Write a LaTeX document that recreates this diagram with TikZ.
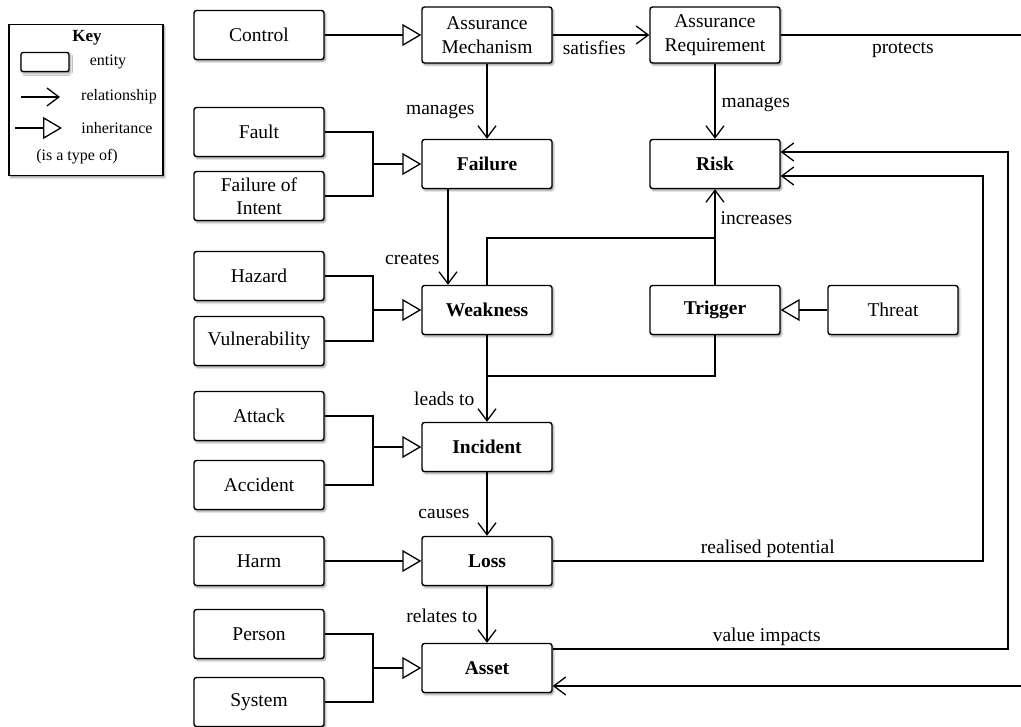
\documentclass[tikz,border=0pt]{standalone}
\usepackage{fontspec}
\setmainfont{Liberation Serif}
\usetikzlibrary{arrows.meta,shadows.blur,calc}

\begin{document}
\begin{tikzpicture}[x=1pt,y=-1pt,
  boxshadow/.style={blur shadow={shadow xshift=1.5pt,shadow yshift=-2pt,shadow blur radius=2pt,shadow opacity=45}},
  ent/.style={draw,line width=1.4pt,rounded corners=2.5pt,fill=white,
    minimum width=130pt,minimum height=49pt,align=center,inner sep=2pt,
    font=\fontsize{19.5}{23.5}\selectfont,boxshadow},
  core/.style={ent,font=\fontsize{19.5}{23.5}\selectfont\bfseries},
  tall/.style={minimum height=56pt},
  rel/.style={line width=1.3pt,-{Straight Barb[length=12pt,width=18pt,line width=1.3pt]}},
  inh/.style={line width=1.3pt,-{Triangle[length=19pt,width=22pt,line width=1.3pt,fill=white]}},
  lnk/.style={line width=1.3pt},
  lbl/.style={font=\fontsize{19.5}{23.5}\selectfont,inner sep=3pt},
  keytxt/.style={font=\fontsize{16}{18}\selectfont,inner sep=1pt},
]
\useasboundingbox (0,0) rectangle (1021,727);
\clip (0,0) rectangle (1021,727);

% ---- key ----
\node (keybox) [draw,line width=1.4pt,fill=white,minimum width=154pt,minimum height=151pt,boxshadow] at (86,100) {};
\node (keytitle) [keytxt,font=\fontsize{17}{19}\selectfont\bfseries] at (87,38) {Key};
\node (keyent) [draw,line width=1.3pt,rounded corners=2pt,fill=white,minimum width=48pt,minimum height=19pt,inner sep=0pt,boxshadow] at (45,62) {};
\node (keyentl) [keytxt] at (108,62) {entity};
\coordinate (kr1) at (21,97);
\coordinate (kr2) at (60,97);
\draw[rel] (kr1) -- (kr2);
\node (keyrel) [keytxt] at (119,97) {relationship};
\coordinate (ki1) at (15,128);
\coordinate (ki2) at (62,128);
\draw[inh] (ki1) -- (ki2);
\node (keyinh) [keytxt] at (117,128) {inheritance};
\node (keytype) [keytxt] at (77,157) {(is a type of)};

% ---- left column ----
\node (control) [ent] at (259,35) {Control};
\node (fault) [ent] at (259,132) {Fault};
\node (foi) [ent] at (259,196) {Failure of\\Intent};
\node (hazard) [ent] at (259,276) {Hazard};
\node (vuln) [ent] at (259,341) {Vulnerability};
\node (attack) [ent] at (259,416) {Attack};
\node (accident) [ent] at (259,485) {Accident};
\node (harm) [ent] at (259,561) {Harm};
\node (person) [ent] at (259,634) {Person};
\node (system) [ent] at (259,702) {System};

% ---- middle column ----
\node (am) [ent,tall] at (487,35) {Assurance\\Mechanism};
\node (failure) [core] at (487,164) {Failure};
\node (weak) [core] at (487,310) {Weakness};
\node (inc) [core] at (487,447) {Incident};
\node (loss) [core] at (487,561) {Loss};
\node (asset) [core] at (487,668) {Asset};

% ---- right column ----
\node (ar) [ent,tall] at (715,35) {Assurance\\Requirement};
\node (risk) [core] at (715,164) {Risk};
\node (trig) [core] at (715,310) {Trigger};
\node (threat) [ent] at (893,310) {Threat};

% ---- junction and routing points ----
\coordinate (jfail) at (373,164);
\coordinate (jweak) at (373,310);
\coordinate (jinc) at (373,447);
\coordinate (jasset) at (373,668);
\coordinate (upper) at (0,238);
\coordinate (lower) at (0,376);
\coordinate (rp) at (983,0);
\coordinate (vi) at (1008,0);
\coordinate (edge) at (1030,0);

% ---- inheritance ----
\draw[inh] (control) -- (am);
\draw[lnk] (fault.east) -| (jfail) |- (foi.east);
\draw[inh] (jfail) -- (failure);
\draw[lnk] (hazard.east) -| (jweak) |- (vuln.east);
\draw[inh] (jweak) -- (weak);
\draw[lnk] (attack.east) -| (jinc) |- (accident.east);
\draw[inh] (jinc) -- (inc);
\draw[inh] (harm) -- (loss);
\draw[lnk] (person.east) -| (jasset) |- (system.east);
\draw[inh] (jasset) -- (asset);
\draw[inh] (threat) -- (trig);

% ---- relationships ----
\draw[rel] (am) -- node[lbl,below,pos=0.43,yshift=-2pt] {satisfies} (ar);
\draw[rel] (am) -- node[lbl,left,pos=0.64,xshift=-9pt] {manages} (failure);
\draw[rel] (ar) -- node[lbl,right,pos=0.55,xshift=3pt] {manages} (risk);
\draw[rel] ([xshift=-39pt]failure.south) -- node[lbl,left,pos=0.73,xshift=-5pt] {creates} ([xshift=-39pt]weak.north);
\draw[rel] (weak.north) -- (weak.north |- upper) -| node[lbl,right,pos=0.7,xshift=2pt] {increases} (risk.south);
\draw[lnk] (trig.north) -- (trig.north |- upper);
\draw[rel] (weak.south) -- node[lbl,left,pos=0.74,xshift=-9pt] {leads to} (inc.north);
\draw[lnk] (trig.south) |- (weak.south |- lower);
\draw[rel] (inc) -- node[lbl,left,pos=0.65,xshift=-14pt] {causes} (loss);
\draw[rel] (loss) -- node[lbl,left,pos=0.52,xshift=-6pt] {relates to} (asset);
\draw[rel] (loss.east) -- node[lbl,above,pos=0.5] {realised potential} (loss.east -| rp) |- ([yshift=-12pt]risk.east);
\draw[rel] ([yshift=19pt]asset.east) -- node[lbl,above,pos=0.47] {value impacts} ([yshift=19pt]asset.east -| vi) |- ([yshift=12pt]risk.east);
\draw[rel] (ar.east) -- node[lbl,below,pos=0.49,yshift=-4pt] {protects} (ar.east -| edge) |- ([yshift=-18pt]asset.east);
\end{tikzpicture}
\end{document}
